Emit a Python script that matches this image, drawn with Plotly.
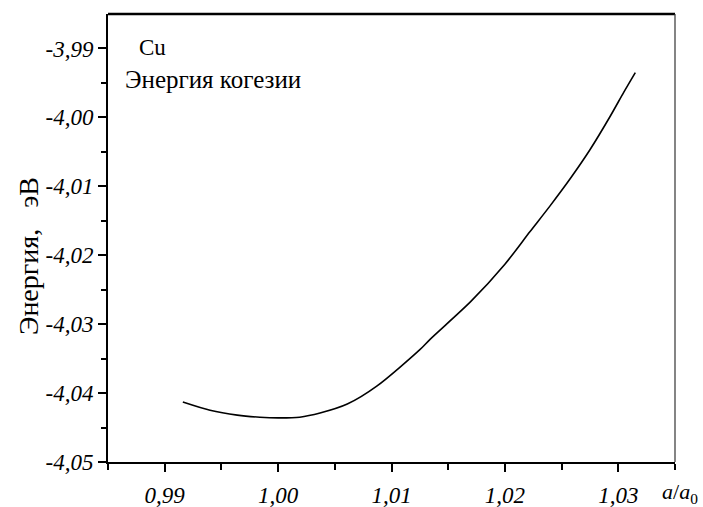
import plotly.graph_objects as go

# data
a_ratio = [0.9916, 0.9940, 0.9964, 0.9984, 1.0000, 1.0019, 1.0037, 1.0061,
           1.0087, 1.0125, 1.0134, 1.0170, 1.0200, 1.0222, 1.0240,
           1.0258, 1.0275, 1.0293, 1.0305, 1.0315]
energy = [-4.0413, -4.0425, -4.0432, -4.0435, -4.0436, -4.0435, -4.0429, -4.0416,
          -4.0390, -4.0337, -4.0322, -4.0267, -4.0213, -4.0166, -4.0128,
          -4.0088, -4.0047, -3.9998, -3.9963, -3.9935]

x_tickvals = [0.99, 1.00, 1.01, 1.02, 1.03]
x_ticktext = ["0,99", "1,00", "1,01", "1,02", "1,03"]
x_minor = [0.985, 0.995, 1.005, 1.015, 1.025, 1.035]
y_tickvals = [-3.99, -4.00, -4.01, -4.02, -4.03, -4.04, -4.05]
y_ticktext = ["-3,99", "-4,00", "-4,01", "-4,02", "-4,03", "-4,04", "-4,05"]
y_minor = [-3.995, -4.005, -4.015, -4.025, -4.035, -4.045]

FONT = "'Liberation Serif', 'Times New Roman', 'DejaVu Serif', serif"

fig = go.Figure()
fig.add_trace(go.Scatter(x=a_ratio, y=energy, mode="lines",
                         line=dict(color="black", width=1.6, shape="spline", smoothing=0.8),
                         showlegend=False, hoverinfo="skip"))

axis_common = dict(showgrid=False, zeroline=False, showline=True, linecolor="black",
                   linewidth=2, ticks="outside", ticklen=8, tickwidth=2, tickcolor="black",
                   automargin=False,
                   tickfont=dict(family=FONT, size=23, color="black", style="italic"))

fig.update_xaxes(range=[0.985, 1.035], tickmode="array", tickvals=x_tickvals,
                 ticktext=x_ticktext, ticklabelstandoff=3,
                 minor=dict(tickmode="array", tickvals=x_minor, ticks="outside",
                            ticklen=6, tickwidth=2, tickcolor="black", showgrid=False),
                 **axis_common)
fig.update_yaxes(range=[-4.05, -3.985], tickmode="array", tickvals=y_tickvals,
                 ticktext=y_ticktext, ticklabelstandoff=0,
                 minor=dict(tickmode="array", tickvals=y_minor, ticks="outside",
                            ticklen=5, tickwidth=2, tickcolor="black", showgrid=False),
                 **axis_common)

# top and right frame lines
fig.add_shape(type="line", xref="paper", yref="paper", x0=0, x1=1, y0=1, y1=1,
              line=dict(color="black", width=2.5))
fig.add_shape(type="line", xref="paper", yref="paper", x0=1, x1=1, y0=0, y1=1,
              line=dict(color="#333", width=1.2))

fig.add_annotation(text="Cu", xref="paper", yref="paper", x=0.051, y=0.926,
                   xanchor="left", yanchor="middle", showarrow=False,
                   font=dict(family=FONT, size=23, color="black"))
fig.add_annotation(text="Энергия когезии", xref="paper", yref="paper", x=0.0265, y=0.853,
                   xanchor="left", yanchor="middle", showarrow=False,
                   font=dict(family=FONT, size=25, color="black"))
fig.add_annotation(text="Энергия,&nbsp;&nbsp;&nbsp;эВ", xref="paper", yref="paper",
                   x=-0.139, y=0.46, xanchor="center", yanchor="middle", textangle=-90,
                   showarrow=False, font=dict(family=FONT, size=28, color="black"))
fig.add_annotation(text="<i>a</i>/<i>a</i><sub>0</sub>", xref="paper", yref="paper",
                   x=0.9735, y=-0.070, xanchor="left", yanchor="middle", showarrow=False,
                   font=dict(family=FONT, size=22, color="black"))

fig.update_layout(width=703, height=507, margin=dict(l=108, r=28, t=14, b=45),
                  font=dict(family=FONT, size=23, color="black"),
                  plot_bgcolor="white", paper_bgcolor="white")

fig.write_html("out.html", config={"displayModeBar": False},
               post_script="document.body.style.margin='0';")
